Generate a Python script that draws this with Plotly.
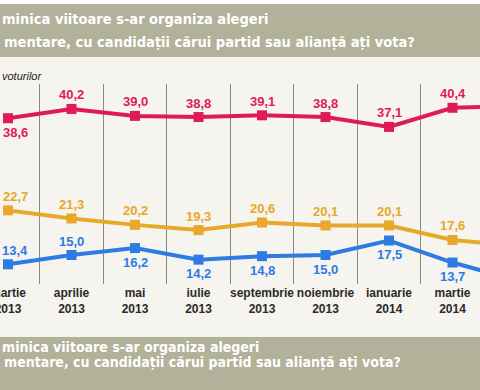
import plotly.graph_objects as go

# ---- data ----
months = ["martie", "aprilie", "mai", "iulie", "septembrie", "noiembrie", "ianuarie", "martie", "mai"]
years = ["2013", "2013", "2013", "2013", "2013", "2013", "2014", "2014", "2014"]
psd = [38.6, 40.2, 39.0, 38.8, 39.1, 38.8, 37.1, 40.4, 40.7]
pnl = [22.7, 21.3, 20.2, 19.3, 20.6, 20.1, 20.1, 17.6, 16.6]
pdl = [13.4, 15.0, 16.2, 14.2, 14.8, 15.0, 17.5, 13.7, 10.7]

title_line1 = "minica viitoare s-ar organiza alegeri"
title_line2 = "mentare, cu candidații cărui partid sau alianță ați vota?"
unit_text = "voturilor"

# ---- styling ----
RED = "#de1a5b"
YEL = "#e7a82b"
BLU = "#2d7be3"
BG = "#f5f4ee"
BAND = "#b2b199"
TXT_FONT = "Liberation Sans Narrow, DejaVu Sans Condensed, Arial Narrow, sans-serif"

# label placement: +1 above, -1 below
psd_side = [-1, 1, 1, 1, 1, 1, 1, 1, 1]
pnl_side = [1, 1, 1, 1, 1, 1, 1, 1, 1]
pdl_side = [1, 1, -1, -1, -1, -1, -1, -1, -1]

x = list(range(len(months)))
ticktext = [f"{m}<br>{y}" for m, y in zip(months, years)]
XR = [-0.126, 7.433]

fig = go.Figure()
for vals, col in [(psd, RED), (pnl, YEL), (pdl, BLU)]:
    fig.add_trace(go.Scatter(
        x=x, y=vals, mode="lines+markers",
        line=dict(color=col, width=4),
        marker=dict(symbol="square", size=10, color=col),
        hoverinfo="skip", showlegend=False,
    ))

annotations = []
for vals, col, sides in [(psd, RED, psd_side), (pnl, YEL, pnl_side), (pdl, BLU, pdl_side)]:
    for i, v in enumerate(vals):
        if i > XR[1]:
            continue
        annotations.append(dict(
            x=i, y=v, xref="x", yref="y",
            text=f"{v:.1f}".replace(".", ","),
            showarrow=False,
            font=dict(family="Liberation Sans, Arial, sans-serif", size=13, color=col, weight="bold"),
            yshift=14 * sides[i], xshift=7 if i == 0 else 0,
        ))

# header / footer texts
hdr_font = dict(family=TXT_FONT, size=14.5, color="white", weight="bold")
annotations += [
    dict(x=0, y=1 - 19 / 390, xref="paper", yref="paper", xanchor="left", yanchor="middle",
         text=title_line1, showarrow=False, font=hdr_font, xshift=0),
    dict(x=0, y=1 - 42 / 390, xref="paper", yref="paper", xanchor="left", yanchor="middle",
         text=title_line2, showarrow=False, font=hdr_font, xshift=2),
    dict(x=0, y=1 - 76 / 390, xref="paper", yref="paper", xanchor="left", yanchor="middle",
         text=unit_text, showarrow=False, xshift=0,
         font=dict(family="Liberation Sans, Arial, sans-serif", size=11, color="#222", style="italic")),
]
ftr_font = dict(family=TXT_FONT, size=14, color="white", weight="bold")
annotations += [
    dict(x=0, y=1 - 347 / 390, xref="paper", yref="paper", xanchor="left", yanchor="middle",
         text=title_line1, showarrow=False, font=ftr_font, xshift=0),
    dict(x=0, y=1 - 362 / 390, xref="paper", yref="paper", xanchor="left", yanchor="middle",
         text=title_line2, showarrow=False, font=ftr_font, xshift=2),
]

shapes = [
    dict(type="rect", xref="paper", yref="paper", x0=0, x1=1, y0=1 - 57 / 390, y1=1 - 4 / 390,
         fillcolor=BAND, line=dict(width=0), layer="below"),
    dict(type="rect", xref="paper", yref="paper", x0=0, x1=1, y0=1 - 4 / 390, y1=1,
         fillcolor="white", line=dict(width=0), layer="below"),
    dict(type="rect", xref="paper", yref="paper", x0=0, x1=1, y0=0, y1=1 - 337 / 390,
         fillcolor=BAND, line=dict(width=0), layer="below"),
]

fig.update_layout(
    width=480, height=390,
    margin=dict(l=0, r=0, t=0, b=0),
    paper_bgcolor=BG, plot_bgcolor=BG,
    shapes=shapes, annotations=annotations,
    xaxis=dict(
        range=XR, domain=[0, 1], automargin=False,
        tickmode="array", tickvals=x, ticktext=ticktext,
        tickangle=0,
        ticks="", showgrid=False, zeroline=False, showline=False,
        ticklabeloverflow="allow",
        tickfont=dict(family="Liberation Sans, Arial, sans-serif", size=12, color="#2a2a2a", weight="bold"),
        minor=dict(tick0=0.5, dtick=1, showgrid=True, gridcolor="#8c8b7c", gridwidth=1),
        fixedrange=True,
    ),
    yaxis=dict(
        range=[10.0, 44.5], domain=[(390 - 284) / 390, (390 - 84) / 390], automargin=False,
        showticklabels=False, showgrid=False, zeroline=False, showline=False, fixedrange=True,
    ),
)

POST = (
    "document.documentElement.style.margin='0';"
    "document.body.style.margin='0';document.body.style.padding='0';"
    "document.body.style.overflow='hidden';"
    "var d=document.getElementById('{plot_id}');"
    "d.style.position='absolute';d.style.left='0px';d.style.top='0px';"
)
fig.write_html("out.html", config={"displayModeBar": False}, post_script=POST)
